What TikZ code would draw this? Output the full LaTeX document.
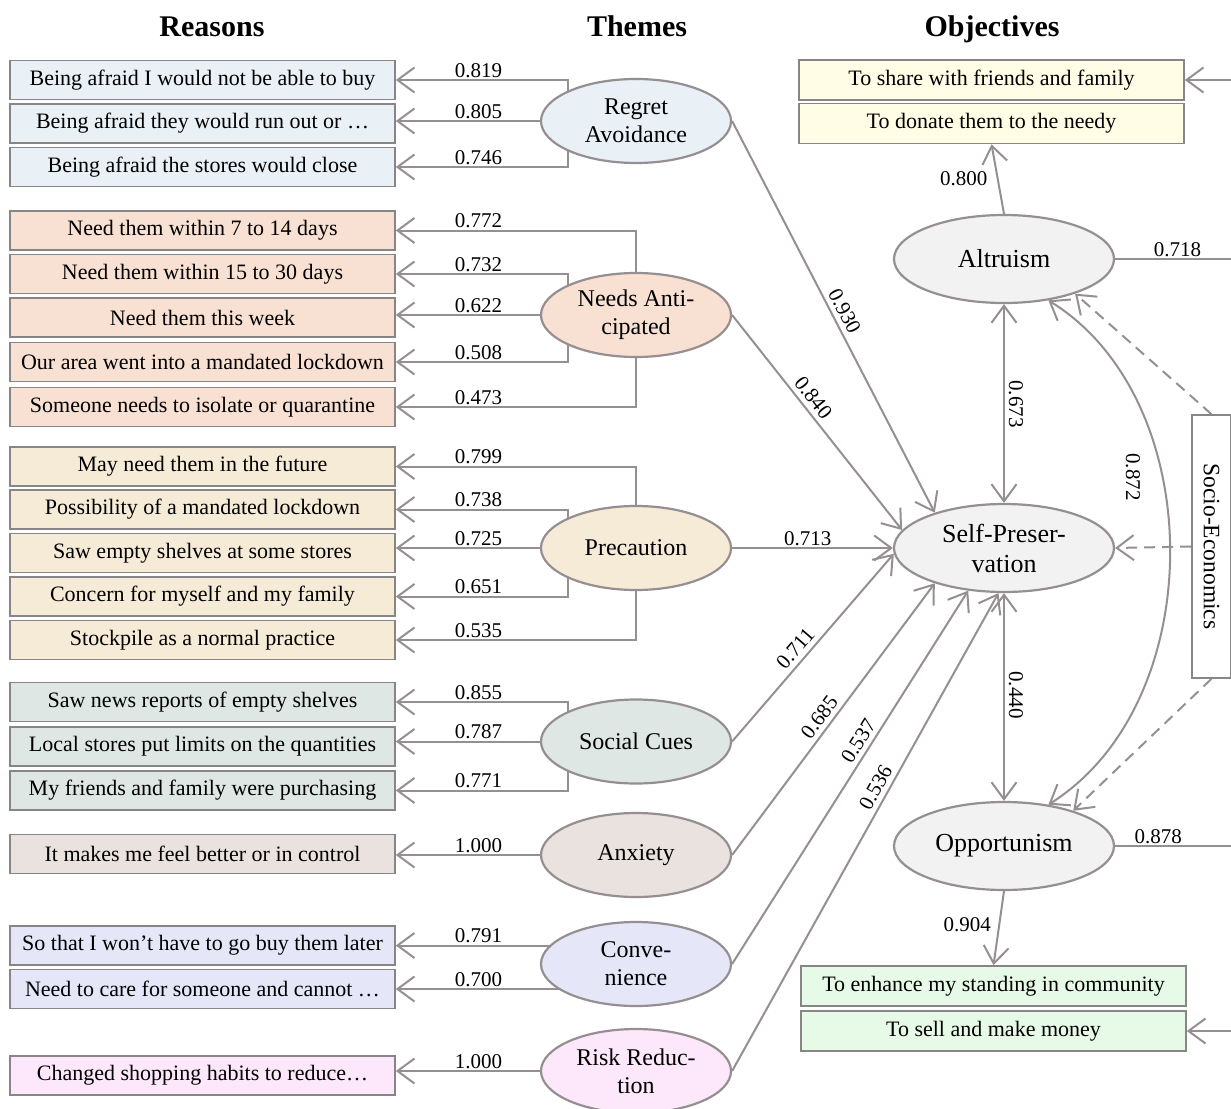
\documentclass[tikz,border=0pt]{standalone}
\usepackage{fontspec}
\setmainfont{Liberation Serif}
\usetikzlibrary{shapes.geometric,arrows.meta,calc}
\definecolor{lineg}{RGB}{150,143,145}
\definecolor{boxg}{RGB}{135,133,133}
\definecolor{cRegret}{RGB}{233,240,246}
\definecolor{cNeeds}{RGB}{248,224,210}
\definecolor{cPrec}{RGB}{246,235,214}
\definecolor{cSocial}{RGB}{223,231,228}
\definecolor{cAnx}{RGB}{233,226,223}
\definecolor{cConv}{RGB}{229,231,249}
\definecolor{cRisk}{RGB}{252,232,250}
\definecolor{cObj}{RGB}{242,242,242}
\definecolor{cYel}{RGB}{255,253,230}
\definecolor{cGrn}{RGB}{231,250,231}
\pgfdeclarelayer{background}
\pgfsetlayers{background,main}
\tikzset{Vb/.tip={Straight Barb[length=17pt,width=25pt]}}
\begin{document}
\begin{tikzpicture}[x=1pt,y=-1pt,
  reason/.style={draw=boxg, line width=1.6pt, minimum width=385pt, minimum height=39pt, inner sep=0pt, font=\fontsize{22}{24}\selectfont},
  theme/.style={ellipse, draw=lineg, line width=2.2pt, minimum width=190pt, minimum height=84pt, inner sep=0pt, align=center, font=\fontsize{24}{28}\selectfont},
  objective/.style={ellipse, draw=lineg, line width=2.2pt, fill=cObj, minimum width=220pt, minimum height=88pt, inner sep=0pt, align=center, font=\fontsize{26}{30}\selectfont},
  goal/.style={draw=boxg, line width=1.6pt, minimum width=385pt, minimum height=40pt, inner sep=0pt, font=\fontsize{22}{24}\selectfont},
  socio/.style={draw=boxg, line width=1.6pt, fill=white, rotate=-90, minimum width=263pt, minimum height=39pt, inner sep=0pt, font=\fontsize{23.5}{26}\selectfont},
  head/.style={anchor=base, font=\fontsize{30}{34}\selectfont\bfseries},
  lbl/.style={font=\fontsize{21}{24}\selectfont, inner sep=1.5pt},
  arr/.style={draw=lineg, line width=2pt, -Vb},
  dbl/.style={draw=lineg, line width=2pt, Vb-Vb},
  darr/.style={arr, dash pattern=on 11pt off 7pt}
]
\useasboundingbox (0,0) rectangle (1231,1108);

% headings
\node[head] (hR) at (212,37) {Reasons};
\node[head] (hT) at (637,37) {Themes};
\node[head] (hO) at (992,37) {Objectives};

% reasons
\node[reason, fill=cRegret] (r1) at (202.5,80) {Being afraid I would not be able to buy};
\node[reason, fill=cRegret] (r2) at (202.5,123.5) {Being afraid they would run out or …};
\node[reason, fill=cRegret] (r3) at (202.5,167) {Being afraid the stores would close};
\node[reason, fill=cNeeds] (n1) at (202.5,230.5) {Need them within 7 to 14 days};
\node[reason, fill=cNeeds] (n2) at (202.5,274) {Need them within 15 to 30 days};
\node[reason, fill=cNeeds] (n3) at (202.5,317.5) {Need them this week};
\node[reason, fill=cNeeds] (n4) at (202.5,362) {Our area went into a mandated lockdown};
\node[reason, fill=cNeeds] (n5) at (202.5,407) {Someone needs to isolate or quarantine};
\node[reason, fill=cPrec] (p1) at (202.5,466.5) {May need them in the future};
\node[reason, fill=cPrec] (p2) at (202.5,509.5) {Possibility of a mandated lockdown};
\node[reason, fill=cPrec] (p3) at (202.5,553) {Saw empty shelves at some stores};
\node[reason, fill=cPrec] (p4) at (202.5,596.5) {Concern for myself and my family};
\node[reason, fill=cPrec] (p5) at (202.5,640) {Stockpile as a normal practice};
\node[reason, fill=cSocial] (s1) at (202.5,702) {Saw news reports of empty shelves};
\node[reason, fill=cSocial] (s2) at (202.5,746.5) {Local stores put limits on the quantities};
\node[reason, fill=cSocial] (s3) at (202.5,790.5) {My friends and family were purchasing};
\node[reason, fill=cAnx] (a1) at (202.5,854) {It makes me feel better or in control};
\node[reason, fill=cConv] (c1) at (202.5,945.5) {So that I won’t have to go buy them later};
\node[reason, fill=cConv] (c2) at (202.5,989) {Need to care for someone and cannot …};
\node[reason, fill=cRisk] (k1) at (202.5,1075.5) {Changed shopping habits to reduce…};

% themes
\node[theme, fill=cRegret] (regret) at (636,121) {Regret\\Avoidance};
\node[theme, fill=cNeeds] (needs) at (636,315) {Needs Anti-\\cipated};
\node[theme, fill=cPrec] (prec) at (636,548) {Precaution};
\node[theme, fill=cSocial] (social) at (636,741.5) {Social Cues};
\node[theme, fill=cAnx] (anx) at (636,855) {Anxiety};
\node[theme, fill=cConv] (conv) at (636,964) {Conve-\\nience};
\node[theme, fill=cRisk] (risk) at (636,1071) {Risk Reduc-\\tion};

% objectives
\node[objective] (alt) at (1004,259) {Altruism};
\node[objective] (sp) at (1004,548) {Self-Preser-\\vation};
\node[objective] (opp) at (1004,846) {Opportunism};
\node[goal, fill=cYel] (y1) at (991.5,80) {To share with friends and family};
\node[goal, fill=cYel] (y2) at (991.5,123.5) {To donate them to the needy};
\node[goal, fill=cGrn] (g1) at (993.5,986) {To enhance my standing in community};
\node[goal, fill=cGrn] (g2) at (993.5,1031) {To sell and make money};
\node[socio] (se) at (1211.5,546.5) {Socio-Economics};

% labels on vertical links
\node[lbl, rotate=-90] (o3) at (1016,404) {0.673};
\node[lbl, rotate=-90] (o4) at (1016,695) {0.440};
\node[lbl, rotate=-90] (o5) at (1133,477) {0.872};

\begin{pgfonlayer}{background}
% regret
\draw[arr] ([xshift=-68pt]regret.center) |- node[lbl,above,pos=0.76] (l1) {0.819} (r1.east);
\draw[arr] (regret.center) -- node[lbl,above,pos=0.656] (l2) {0.805} (regret.center -| r2.east);
\draw[arr] ([xshift=-68pt]regret.center) |- node[lbl,above,pos=0.76] (l3) {0.746} (r3.east);
% needs
\draw[arr] (needs.center) |- node[lbl,above,pos=0.828] (l4) {0.772} (n1.east);
\draw[arr] ([xshift=-68pt]needs.center) |- node[lbl,above,pos=0.76] (l5) {0.732} (n2.east);
\draw[arr] (needs.center) -- node[lbl,above,pos=0.656] (l6) {0.622} (needs.center -| n3.east);
\draw[arr] ([xshift=-68pt]needs.center) |- node[lbl,above,pos=0.76] (l7) {0.508} (n4.east);
\draw[arr] (needs.center) |- node[lbl,above,pos=0.828] (l8) {0.473} (n5.east);
% precaution
\draw[arr] (prec.center) |- node[lbl,above,pos=0.828] (l9) {0.799} (p1.east);
\draw[arr] ([xshift=-68pt]prec.center) |- node[lbl,above,pos=0.76] (l10) {0.738} (p2.east);
\draw[arr] (prec.center) -- node[lbl,above,pos=0.656] (l11) {0.725} (prec.center -| p3.east);
\draw[arr] ([xshift=-68pt]prec.center) |- node[lbl,above,pos=0.76] (l12) {0.651} (p4.east);
\draw[arr] (prec.center) |- node[lbl,above,pos=0.828] (l13) {0.535} (p5.east);
% social
\draw[arr] ([xshift=-68pt]social.center) |- node[lbl,above,pos=0.76] (l14) {0.855} (s1.east);
\draw[arr] (social.center) -- node[lbl,above,pos=0.656] (l15) {0.787} (social.center -| s2.east);
\draw[arr] ([xshift=-68pt]social.center) |- node[lbl,above,pos=0.76] (l16) {0.771} (s3.east);
% anxiety, convenience, risk
\draw[arr] (anx.center) -- node[lbl,above,pos=0.656] (l17) {1.000} (anx.center -| a1.east);
\draw[arr] (conv.center |- c1.east) -- node[lbl,above,pos=0.656] (l18) {0.791} (c1.east);
\draw[arr] (conv.center |- c2.east) -- node[lbl,above,pos=0.656] (l19) {0.700} (c2.east);
\draw[arr] (risk.center) -- node[lbl,above,pos=0.656] (l20) {1.000} (risk.center -| k1.east);

% themes -> self-preservation
\draw[arr] (regret.east) -- node[lbl,sloped,above=3pt,pos=0.5] (m1) {0.930} (sp.153);
\draw[arr] (needs.east) -- node[lbl,sloped,above=3pt,pos=0.42] (m2) {0.840} (sp.170);
\draw[arr] (prec.east) -- node[lbl,above,pos=0.47] (m3) {0.713} (sp.west);
\draw[arr] (social.east) -- node[lbl,sloped,above=3pt,pos=0.45] (m4) {0.711} (sp.183);
\draw[arr] (anx.east) -- node[lbl,sloped,above=3pt,pos=0.48] (m5) {0.685} (sp.207.5);
\draw[arr] (conv.east) -- node[lbl,sloped,above=3pt,pos=0.58] (m6) {0.537} (sp.230.6);
\draw[arr] (risk.east) -- node[lbl,sloped,above=3pt,pos=0.58] (m7) {0.536} (sp.263);

% objectives
\draw[arr] (alt.north) -- node[lbl,left=8pt,pos=0.5] (o1) {0.800} (y2.south);
\draw[arr] (opp.south) -- node[lbl,left=6pt,pos=0.45] (o2) {0.904} (g1.north);
\draw[dbl] (alt.south) -- (sp.north);
\draw[dbl] (sp.south) -- (opp.north);
\draw[dbl] (alt.317) .. controls (1210,400) and (1210,703) .. (opp.43);
\draw[arr] (alt.east) -- node[lbl,above,pos=0.48] (o6) {0.718} ++(130,0) |- (y1.east);
\draw[arr] (opp.east) -- node[lbl,above,pos=0.32] (o7) {0.878} ++(135,0) |- (g2.east);

% socio-economics
\draw[darr] (se.west) -- (alt.334);
\draw[darr] (se.south) -- (sp.east);
\draw[darr] (se.east) -- (opp.27);
\end{pgfonlayer}
\end{tikzpicture}
\end{document}
